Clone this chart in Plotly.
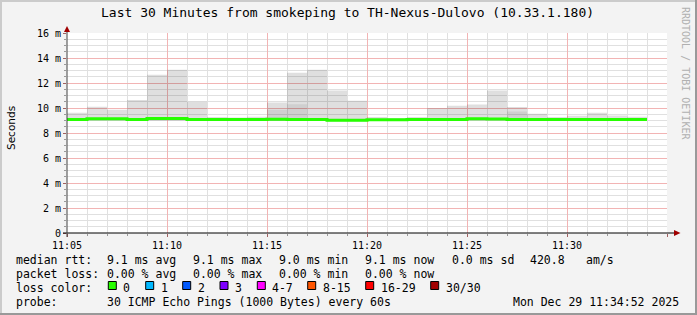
import plotly.graph_objects as go
import pandas as pd

# ---------------- data (ms) ----------------
step_start = pd.date_range("2025-12-29 11:05", "2025-12-29 11:34", freq="1min")  # 30 edges -> 29 steps
median_ms = [9.09, 9.14, 9.14, 9.09, 9.17, 9.17, 9.09, 9.09, 9.09, 9.09,
             9.11, 9.09, 9.09, 9.02, 9.02, 9.07, 9.07, 9.08, 9.08, 9.08,
             9.15, 9.12, 9.08, 9.08, 9.08, 9.08, 9.08, 9.08, 9.08]
smoke_max_ms = [9.62, 10.10, 9.86, 10.64, 12.66, 13.06, 10.50, 9.28, 9.25, 9.30,
                10.45, 12.83, 13.06, 11.41, 10.58, 9.28, 9.20, 9.28, 10.00, 10.18,
                10.29, 11.41, 10.08, 9.54, 9.28, 9.38, 9.62, 9.41, 9.30]
smoke_min_ms = [8.98, 8.98, 8.98, 8.97, 8.98, 8.98, 8.97, 8.98, 8.98, 8.98,
                8.96, 8.97, 8.97, 8.93, 8.93, 8.96, 8.97, 8.97, 8.97, 8.97,
                8.98, 8.97, 8.97, 8.97, 8.97, 8.97, 8.97, 8.97, 8.97]
smoke_inner_ms = [8.98, 8.98, 8.98, 8.97, 8.98, 8.98, 8.97, 8.98, 8.98, 8.98,
                  9.86, 10.30, 8.97, 8.93, 8.93, 8.96, 8.97, 8.97, 8.97, 8.97,
                  8.98, 8.97, 9.73, 8.97, 8.97, 8.97, 8.97, 8.97, 8.97]

x_tick_vals = ["2025-12-29 11:05", "2025-12-29 11:10", "2025-12-29 11:15",
               "2025-12-29 11:20", "2025-12-29 11:25", "2025-12-29 11:30", "2025-12-29 11:35"]
x_tick_text = ["11:05", "11:10", "11:15", "11:20", "11:25", "11:30", ""]
x_minor_vals = [t for t in pd.date_range("2025-12-29 11:05", "2025-12-29 11:35", freq="1min")
                if t.minute % 5 != 0]
y_tick_vals = [0, 2, 4, 6, 8, 10, 12, 14, 16]
y_tick_text = ["0", "2 m", "4 m", "6 m", "8 m", "10 m", "12 m", "14 m", "16 m"]
y_minor_vals = [v / 2 for v in range(0, 33) if v % 4 != 0]

title_text = "Last 30 Minutes from smokeping to TH-Nexus-Dulovo (10.33.1.180)"
line1 = [(16, "median rtt:"), (107.3, "9.1 ms avg"), (193.3, "9.1 ms max"),
         (279, "9.0 ms min"), (365, "9.1 ms now"), (451.7, "0.0 ms sd"),
         (530, "420.8"), (586, "am/s")]
line2 = [(16, "packet loss:"), (107.3, "0.00 % avg"), (193.3, "0.00 % max"),
         (279, "0.00 % min"), (365, "0.00 % now")]
loss_labels = ["0", "1", "2", "3", "4-7", "8-15", "16-29", "30/30"]
loss_colors = ["#26ff00", "#00b8ff", "#0059ff", "#7e00ff", "#ff00ff", "#ff5500", "#ff0000", "#a10000"]
loss_box_x = [108.3, 145.7, 182.7, 220, 257.3, 307.7, 365.7, 430.7]
line4 = [(16, "probe:"), (107.3, "30 ICMP Echo Pings (1000 Bytes) every 60s"),
         (513, "Mon Dec 29 11:34:52 2025")]

# ---------------- geometry helpers ----------------
W, H = 697, 315
L, R, T, B = 67, 30, 33, 82
PW, PH = W - L - R, H - T - B

def px(x):
    return (x - L) / PW

def py(y):
    return (H - B - y) / PH

MONO = "DejaVu Sans Mono"

def step(v):
    return list(v) + [v[-1]]

xs = list(step_start)

fig = go.Figure()
fig.add_trace(go.Scatter(x=xs, y=step(smoke_min_ms), mode="lines", line=dict(width=0, shape="hv"),
                         showlegend=False, hoverinfo="skip"))
fig.add_trace(go.Scatter(x=xs, y=step(smoke_max_ms), mode="lines", line=dict(width=0, shape="hv"),
                         fill="tonexty", fillcolor="rgba(0,0,0,0.125)", showlegend=False, hoverinfo="skip"))
fig.add_trace(go.Scatter(x=xs, y=step(smoke_min_ms), mode="lines", line=dict(width=0, shape="hv"),
                         showlegend=False, hoverinfo="skip"))
fig.add_trace(go.Scatter(x=xs, y=step(smoke_inner_ms), mode="lines", line=dict(width=0, shape="hv"),
                         fill="tonexty", fillcolor="rgba(0,0,0,0.07)", showlegend=False, hoverinfo="skip"))
fig.add_trace(go.Scatter(x=xs, y=step(median_ms), mode="lines", line=dict(width=3, shape="hv", color="#26ff00"),
                         showlegend=False, hoverinfo="skip"))

major_grid = "rgb(242,180,180)"
minor_grid = "rgb(224,224,224)"

fig.update_xaxes(
    range=["2025-12-29 11:05", "2025-12-29 11:35"],
    tickmode="array", tickvals=x_tick_vals, ticktext=x_tick_text,
    showgrid=True, gridcolor=major_grid, griddash="solid", gridwidth=1,
    ticks="outside", ticklen=3, tickcolor="#a06060",
    minor=dict(tickmode="array", tickvals=x_minor_vals, showgrid=True, gridcolor=minor_grid,
               griddash="solid", ticks="outside", ticklen=2, tickcolor="#999999"),
    tickfont=dict(family=MONO, size=10, color="black"),
    zeroline=False, showline=False, fixedrange=True,
)
fig.update_yaxes(
    range=[0, 16], tickmode="array", tickvals=y_tick_vals, ticktext=y_tick_text,
    showgrid=True, gridcolor=major_grid, griddash="solid", gridwidth=1,
    ticks="outside", ticklen=3, tickcolor="#a06060",
    minor=dict(tickmode="array", tickvals=y_minor_vals, showgrid=True, gridcolor=minor_grid,
               griddash="solid", ticks="outside", ticklen=2, tickcolor="#999999"),
    tickfont=dict(family=MONO, size=10, color="black"),
    zeroline=False, showline=False, fixedrange=True,
)

shapes = []
# frame
shapes.append(dict(type="rect", xref="paper", yref="paper", x0=px(0), x1=px(W), y0=py(0), y1=py(2),
                   fillcolor="#cbcbcb", line=dict(width=0), layer="above"))
shapes.append(dict(type="rect", xref="paper", yref="paper", x0=px(0), x1=px(2), y0=py(0), y1=py(H),
                   fillcolor="#cbcbcb", line=dict(width=0), layer="above"))
shapes.append(dict(type="rect", xref="paper", yref="paper", x0=px(0), x1=px(W), y0=py(H - 2), y1=py(H),
                   fillcolor="#999999", line=dict(width=0), layer="above"))
shapes.append(dict(type="rect", xref="paper", yref="paper", x0=px(W - 2), x1=px(W), y0=py(0), y1=py(H),
                   fillcolor="#999999", line=dict(width=0), layer="above"))
# axis lines
shapes.append(dict(type="line", xref="paper", yref="paper", x0=px(63), x1=px(676), y0=0, y1=0,
                   line=dict(color="black", width=1), layer="above"))
shapes.append(dict(type="line", xref="paper", yref="paper", x0=0, x1=0, y0=py(237), y1=py(30),
                   line=dict(color="#404040", width=1), layer="above"))
# arrows
shapes.append(dict(type="path", xref="paper", yref="paper",
                   path=f"M {px(674)} {py(230)} L {px(680.5)} {py(233)} L {px(674)} {py(236)} Z",
                   fillcolor="#a00000", line=dict(width=0), layer="above"))
shapes.append(dict(type="path", xref="paper", yref="paper",
                   path=f"M {px(64)} {py(32)} L {px(67)} {py(26)} L {px(70)} {py(32)} Z",
                   fillcolor="#a00000", line=dict(width=0), layer="above"))
# loss colour boxes
for bx, col in zip(loss_box_x, loss_colors):
    shapes.append(dict(type="rect", xref="paper", yref="paper", x0=px(bx), x1=px(bx + 8),
                       y0=py(289.5), y1=py(281.5), fillcolor=col, line=dict(color="black", width=1)))

ann = []
def text(x, y, s, size=11.5, anchor="left", color="black", family=MONO, angle=0):
    ann.append(dict(x=px(x), y=py(y), xref="paper", yref="paper", text=s, showarrow=False,
                    xanchor=anchor, yanchor="middle", textangle=angle, borderpad=0, borderwidth=0,
                    font=dict(family=family, size=size, color=color)))

text(347.5, 13, title_text, size=13, anchor="center")
text(11, 128, "Seconds", size=10.5, anchor="center", family="DejaVu Sans", angle=-90)
text(686, 73, "RRDTOOL / TOBI OETIKER", size=10, anchor="center", color="#b0b0b0", angle=90)
for x, s in line1:
    text(x, 259.5, s)
for x, s in line2:
    text(x, 273.5, s)
text(16, 287.5, "loss color:")
for bx, lab in zip(loss_box_x, loss_labels):
    text(bx + 15, 287.5, lab)
for x, s in line4:
    text(x, 301.5, s)

fig.update_layout(
    width=W, height=H, autosize=False,
    margin=dict(l=L, r=R, t=T, b=B, pad=0),
    paper_bgcolor="#f3f3f3", plot_bgcolor="white",
    shapes=shapes, annotations=ann, showlegend=False,
)

fig.write_html("out.html")
